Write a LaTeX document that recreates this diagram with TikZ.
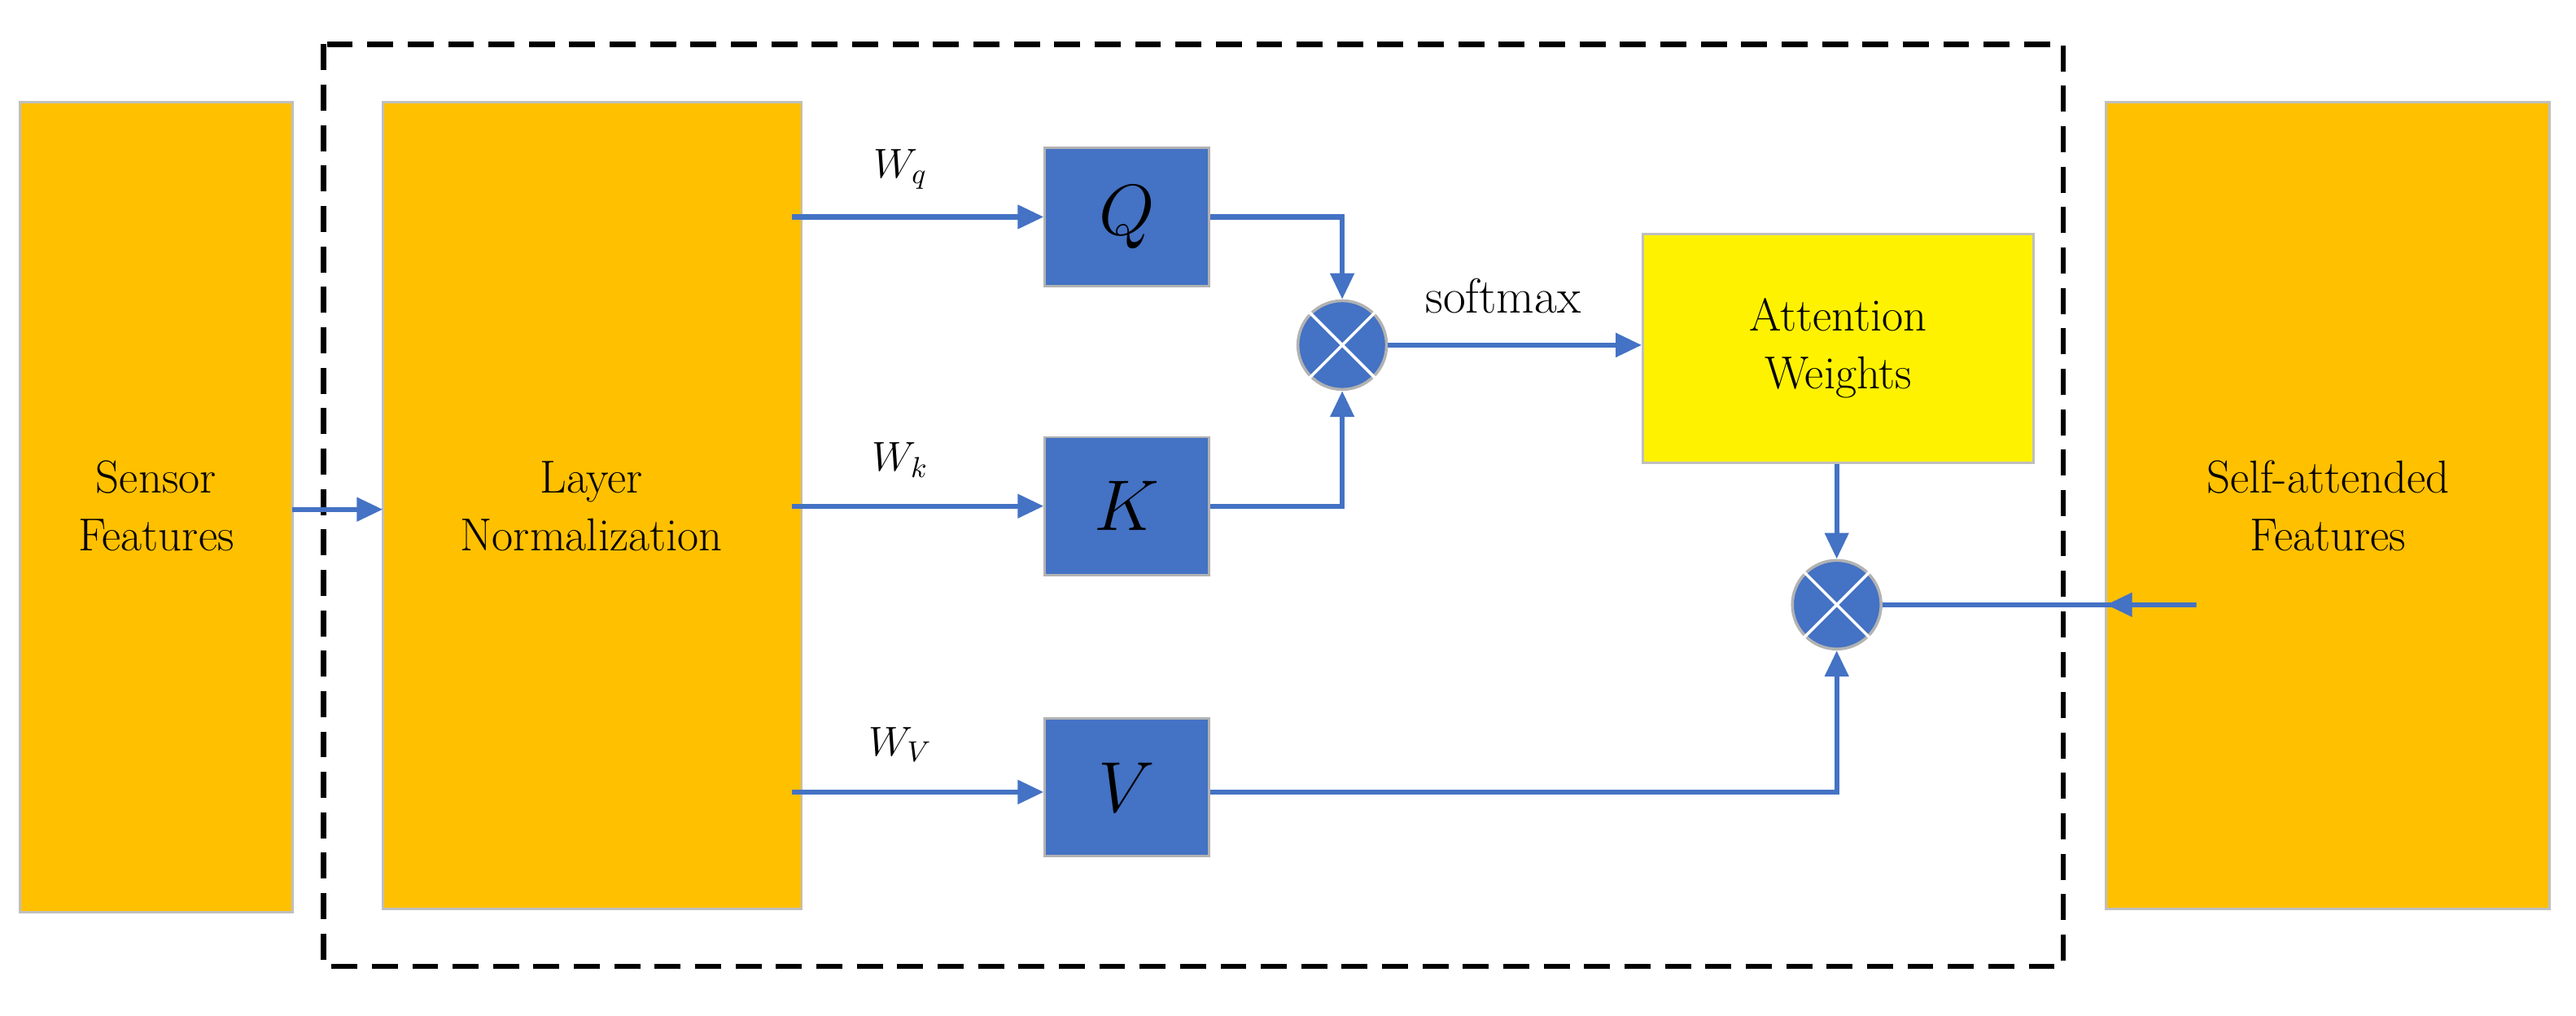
\documentclass[tikz,border=0pt]{standalone}
\usetikzlibrary{arrows.meta}
\definecolor{org}{HTML}{FFC000}
\definecolor{blu}{HTML}{4472C4}
\begin{document}
\begin{tikzpicture}[x=0.02cm,y=-0.02cm,
  big/.style={fill=org,draw=black!25,line width=0.8pt,align=center,font=\fontsize{16}{20}\selectfont},
  mat/.style={fill=blu,draw=black!30,line width=0.8pt,font=\fontsize{24}{28}\selectfont\itshape},
  mul/.style={circle,fill=blu,draw=black!30,line width=1pt,minimum size=1.08cm,inner sep=0pt},
  ar/.style={draw=blu,line width=1.8pt,-{Triangle[length=9pt,width=8pt]}},
  lbl/.style={font=\fontsize{14}{16}\selectfont}]
\useasboundingbox (0,0) rectangle (1568,618);
\draw[line width=1.8pt,dash pattern=on 9pt off 5pt] (197,27) rectangle (1256,588);
\path[big] (12,62) rectangle (178,555);
\node[font=\fontsize{16}{20}\selectfont,align=center] (sf) at (95,308) {Sensor\\Features};
\path[big] (233,62) rectangle (488,553);
\node[font=\fontsize{16}{20}\selectfont,align=center] (ln) at (360,308) {Layer\\Normalization};
\path[big] (1282,62) rectangle (1552,553);
\node[font=\fontsize{16}{20}\selectfont,align=center] (sa) at (1417,308) {Self-attended\\Features};
\node[mat,minimum width=2cm,minimum height=1.68cm] (q) at (686,132) {$Q$};
\node[mat,minimum width=2cm,minimum height=1.68cm] (k) at (686,308) {$K$};
\node[mat,minimum width=2cm,minimum height=1.68cm] (v) at (686,479) {$V$};
\node[fill=yellow,draw=black!25,line width=0.8pt,minimum width=4.76cm,minimum height=2.78cm,align=center,font=\fontsize{16}{20}\selectfont] (aw) at (1119,212) {Attention\\Weights};
\node[mul] (m1) at (817,210) {};
\node[mul] (m2) at (1118,368) {};
\foreach \m in {m1,m2}{\draw[white,line width=1pt] (\m.45)--(\m.225) (\m.135)--(\m.315);}
\coordinate (s1) at (178,310);
\draw[ar] (s1) -- (233,310);
\coordinate (l1) at (482,132); \coordinate (l2) at (482,308); \coordinate (l3) at (482,482);
\draw[ar] (l1) -- (q.west);
\draw[ar] (l2) -- (k.west);
\draw[ar] (l3) -- (v.west |- l3);
\node[lbl] at (548,103) {$W_q$};
\node[lbl] at (548,280) {$W_k$};
\node[lbl] at (548,453) {$W_V$};
\draw[ar] (q.east) -| (m1.north);
\draw[ar] (k.east) -| (m1.south);
\draw[ar] (m1.east) -- (aw.west |- m1);
\node[font=\fontsize{17}{20}\selectfont] at (915,180) {softmax};
\draw[ar] (aw.south -| m2) -- (m2.north);
\draw[ar] (v.east |- l3) -| (m2.south);
\draw[ar] (m2.east) -- (sa.west |- m2) -- (1282,368);
\end{tikzpicture}
\end{document}
